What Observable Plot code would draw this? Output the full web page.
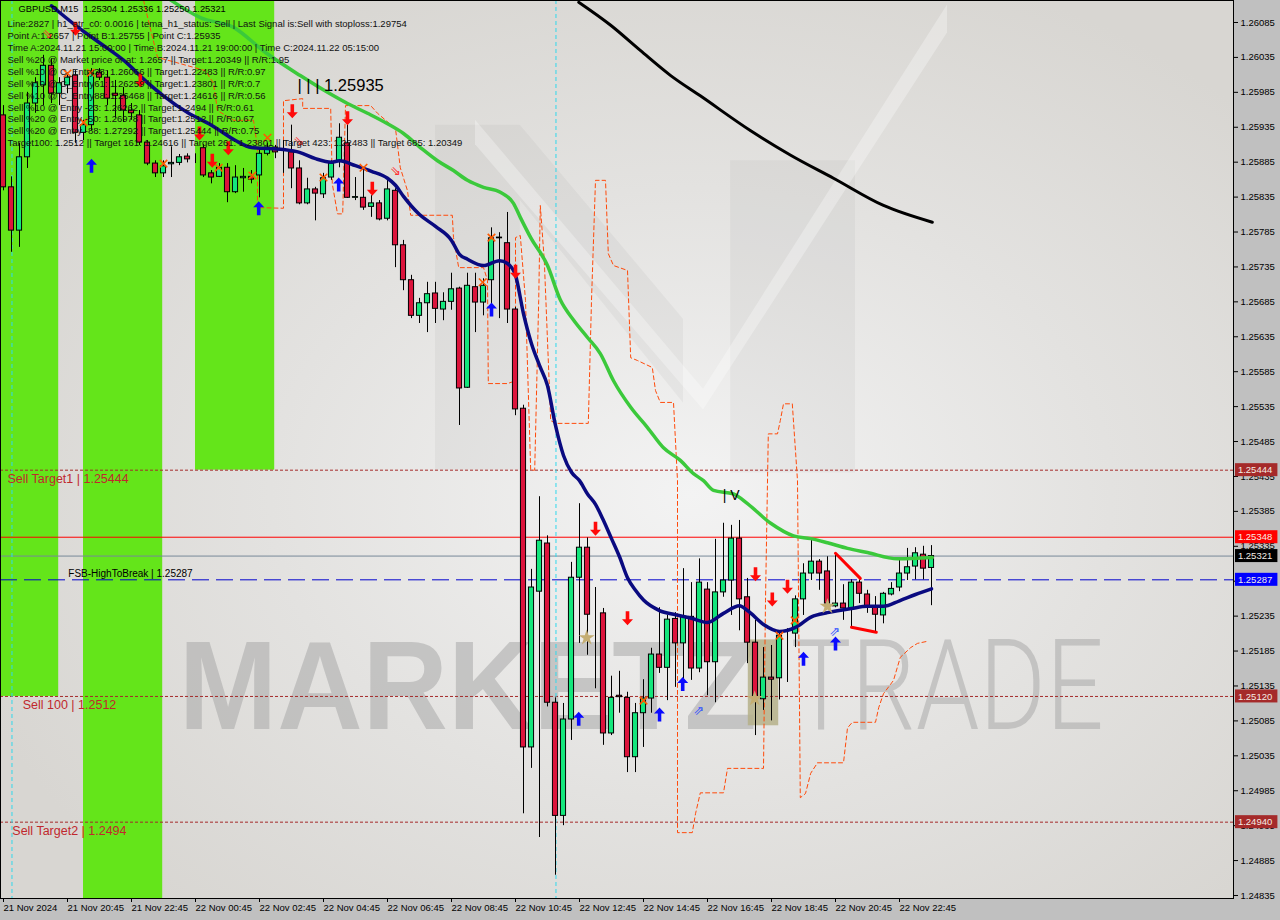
<!DOCTYPE html>
<html><head><meta charset="utf-8">
<script src="https://cdn.jsdelivr.net/npm/d3@7"></script>
<script src="https://cdn.jsdelivr.net/npm/@observablehq/plot@0.6"></script>
<style>html,body{margin:0;padding:0;background:#c0c0c0;overflow:hidden}#chart svg{display:block}</style>
</head><body><div id="chart"></div>
<script>
// ---------- candles (GBPUSD M15, bar index 0 = 21 Nov 18:45) ----------
const opens = [1.25952,1.25849,1.25787,1.25892,1.25969,1.25995,1.26023,1.25983,1.25995,1.26009,
1.25927,1.25938,1.26013,1.26006,1.25983,1.25980,1.25959,1.25952,1.25913,1.25883,
1.25869,1.25882,1.25884,1.25893,1.25890,1.25905,1.25869,1.25864,1.25877,1.25842,
1.25862,1.25864,1.25866,1.25897,1.25906,1.25901,1.25899,1.25876,1.25826,1.25846,
1.25839,1.25863,1.25887,1.25912,1.25834,1.25834,1.25821,1.25826,1.25804,1.25844,
1.25766,1.25716,1.25665,1.25683,1.25697,1.25674,1.25685,1.25704,1.25562,1.25706,
1.25684,1.25716,1.25776,1.25769,1.25674,1.25532,1.25047,1.25270,1.25339,1.25111,
1.24949,1.25087,1.25290,1.25333,1.25237,1.25239,1.25067,1.25121,1.25118,1.25033,
1.25096,1.25117,1.25180,1.25161,1.25231,1.25196,1.25234,1.25160,1.25273,1.25169,
1.25269,1.25286,1.25346,1.25262,1.25197,1.25116,1.25147,1.25146,1.25210,1.25210,
1.25259,1.25296,1.25313,1.25299,1.25249,1.25253,1.25246,1.25283,1.25266,1.25247,
1.25236,1.25266,1.25276,1.25296,1.25306,1.25323,1.25304];
const highs = [1.25966,1.25864,1.25912,1.25985,1.26006,1.26038,1.26033,1.26006,1.26013,1.26016,
1.25945,1.26019,1.26019,1.26016,1.26002,1.25992,1.25969,1.25959,1.25916,1.25887,
1.25887,1.25907,1.25896,1.25897,1.25897,1.25910,1.25873,1.25883,1.25883,1.25880,
1.25876,1.25873,1.25906,1.25912,1.25909,1.25916,1.25938,1.25887,1.25862,1.25849,
1.25869,1.25887,1.25940,1.25938,1.25863,1.25873,1.25837,1.25830,1.25859,1.25847,
1.25773,1.25723,1.25690,1.25713,1.25713,1.25698,1.25726,1.25706,1.25726,1.25726,
1.25718,1.25791,1.25784,1.25813,1.25677,1.25537,1.25302,1.25406,1.25350,1.25118,
1.25110,1.25312,1.25396,1.25347,1.25276,1.25246,1.25149,1.25156,1.25126,1.25110,
1.25144,1.25189,1.25247,1.25236,1.25240,1.25303,1.25283,1.25317,1.25283,1.25345,
1.25368,1.25365,1.25372,1.25289,1.25229,1.25190,1.25193,1.25210,1.25217,1.25264,
1.25310,1.25346,1.25316,1.25320,1.25326,1.25280,1.25287,1.25287,1.25272,1.25263,
1.25269,1.25283,1.25315,1.25332,1.25333,1.25335,1.25336];
const lows = [1.25844,1.25756,1.25763,1.25876,1.25955,1.25966,1.25969,1.25966,1.25983,1.25912,
1.25916,1.25930,1.26002,1.25966,1.25948,1.25942,1.25945,1.25909,1.25880,1.25863,
1.25863,1.25863,1.25880,1.25884,1.25883,1.25863,1.25854,1.25863,1.25827,1.25840,
1.25842,1.25854,1.25834,1.25894,1.25890,1.25869,1.25847,1.25824,1.25824,1.25801,
1.25833,1.25859,1.25877,1.25833,1.25830,1.25816,1.25806,1.25801,1.25801,1.25734,
1.25701,1.25661,1.25654,1.25641,1.25654,1.25658,1.25673,1.25508,1.25561,1.25641,
1.25665,1.25677,1.25661,1.25654,1.25522,1.24952,1.25017,1.24918,1.25105,1.24864,
1.24935,1.25057,1.25196,1.25179,1.25131,1.25050,1.25064,1.25096,1.25011,1.25011,
1.25047,1.25096,1.25153,1.25114,1.25133,1.25143,1.25143,1.25154,1.25121,1.25111,
1.25262,1.25236,1.25214,1.25167,1.25064,1.25100,1.25085,1.25115,1.25140,1.25190,
1.25236,1.25286,1.25272,1.25246,1.25247,1.25229,1.25220,1.25253,1.25239,1.25211,
1.25224,1.25264,1.25270,1.25286,1.25287,1.25287,1.25250];
const closes = [1.25849,1.25787,1.25892,1.25969,1.25998,1.26023,1.25983,1.25998,1.26006,1.25927,
1.25938,1.26012,1.26006,1.25976,1.25980,1.25959,1.25955,1.25913,1.25883,1.25869,
1.25879,1.25884,1.25892,1.25889,1.25890,1.25866,1.25863,1.25877,1.25842,1.25863,
1.25864,1.25860,1.25897,1.25906,1.25899,1.25902,1.25876,1.25826,1.25846,1.25840,
1.25862,1.25883,1.25920,1.25834,1.25835,1.25820,1.25826,1.25803,1.25846,1.25766,
1.25716,1.25665,1.25683,1.25696,1.25675,1.25685,1.25703,1.25561,1.25708,1.25684,
1.25708,1.25776,1.25777,1.25674,1.25531,1.25047,1.25276,1.25343,1.25111,1.24949,
1.25087,1.25290,1.25333,1.25237,1.25237,1.25067,1.25118,1.25119,1.25033,1.25096,
1.25117,1.25180,1.25161,1.25230,1.25196,1.25234,1.25160,1.25283,1.25169,1.25269,
1.25286,1.25346,1.25259,1.25197,1.25118,1.25147,1.25144,1.25207,1.25210,1.25259,
1.25296,1.25313,1.25296,1.25253,1.25253,1.25246,1.25283,1.25267,1.25247,1.25237,
1.25267,1.25274,1.25296,1.25305,1.25325,1.25303,1.25321];

// ---------- axes ----------
const xTickIdx = [0,8,16,24,32,40,48,56,64,72,80,88,96,104,112];
const xTickLabels = ["21 Nov 2024","21 Nov 20:45","21 Nov 22:45","22 Nov 00:45","22 Nov 02:45","22 Nov 04:45","22 Nov 06:45","22 Nov 08:45","22 Nov 10:45","22 Nov 12:45","22 Nov 14:45","22 Nov 16:45","22 Nov 18:45","22 Nov 20:45","22 Nov 22:45"];
const yTicks = [1.24835,1.24885,1.24935,1.24985,1.25035,1.25085,1.25135,1.25185,1.25235,1.25285,1.25335,1.25385,1.25435,1.25485,1.25535,1.25585,1.25635,1.25685,1.25735,1.25785,1.25835,1.25885,1.25935,1.25985,1.26035,1.26085];

// ---------- indicator lines (bar index, price) ----------
const navyIdx = [6,9,12,15,18,20,23,26,29,31,35,37,39,41,42,44,46,48,49,50,52,54,56,57,58,60,62,63,64,65,66,67,68,69,70,71,72,73,74,75,76,77,78,79,80,82,84,86,88,90,92,93,95,97,99,101,103,106,108,110,112,114,116];
const navyPrice = [1.26109,1.26081,1.26056,1.26031,1.25999,1.25980,1.25956,1.25938,1.25916,1.25906,1.25903,1.25899,1.25890,1.25885,1.25887,1.25880,1.25872,1.25862,1.25852,1.25836,1.25810,1.25793,1.25773,1.25753,1.25746,1.25737,1.25744,1.25740,1.25723,1.25668,1.25625,1.25594,1.25565,1.25508,1.25465,1.25441,1.25429,1.25410,1.25395,1.25372,1.25346,1.25320,1.25290,1.25272,1.25258,1.25243,1.25237,1.25232,1.25226,1.25239,1.25250,1.25243,1.25223,1.25213,1.25219,1.25234,1.25240,1.25246,1.25249,1.25249,1.25257,1.25266,1.25274];
const greenIdx = [20.9,24.6,28.75,32.75,37.1,40.5,43,45.5,48,50,52.1,54.25,56.25,58,60,62.1,63.75,64.6,65.9,68,69.6,71.25,73,74.6,76.25,78.4,80.5,82.5,84.6,86.25,87.5,88.75,91.25,93,95.9,98.75,100.9,103,105.5,108,111.75,116.1];
const greenPrice = [1.26117,1.26092,1.26078,1.26042,1.26009,1.25985,1.25969,1.25955,1.25940,1.25926,1.25906,1.25887,1.25873,1.25859,1.25849,1.25842,1.25826,1.25806,1.25777,1.25737,1.25688,1.25659,1.25634,1.25611,1.25572,1.25534,1.25505,1.25476,1.25458,1.25439,1.25429,1.25415,1.25410,1.25396,1.25368,1.25350,1.25346,1.25340,1.25332,1.25326,1.25317,1.25319];
const blackIdx = [71.9,75.9,79.6,83.4,87.1,93.4,98.4,103.75,110,116.1];
const blackPrice = [1.26114,1.26081,1.26045,1.26009,1.25980,1.25930,1.25895,1.25862,1.25823,1.25799];
const orangeIdx = [17.5,18.4,19.25,21.5,25.25,26.25,26.75,28.75,31.25,31.75,31.75,35,35,37.4,37.4,40.9,41.1,41.75,42.4,42.75,45.9,46.75,49,49.6,50.5,50.9,56.1,56.25,56.9,60,60.5,60.6,63,64,64,64.6,65.25,65.9,66.4,66.9,67.1,67.6,68.4,69,73.1,73.5,74,75.25,75.6,76.25,78,78.4,79.25,81.1,81.5,82.1,83.75,84.25,84.25,86.1,86.5,87.1,90,90.5,95,95.25,95.6,96.75,97.1,97.5,98.6,99.25,99.6,100.25,100.9,101.75,105,105.5,106.1,109,109.4,110,111.25,112.1,113.4,114.25,115.5];
const orangePrice = [1.26117,1.26074,1.26035,1.26028,1.26016,1.25998,1.25959,1.25945,1.25945,1.25906,1.25820,1.25819,1.25973,1.25976,1.25962,1.25962,1.25854,1.25811,1.25811,1.25966,1.25966,1.25955,1.25933,1.25877,1.25844,1.25809,1.25809,1.25777,1.25734,1.25734,1.25716,1.25568,1.25568,1.25572,1.25777,1.25780,1.25687,1.25444,1.25444,1.25687,1.25823,1.25744,1.25515,1.25511,1.25511,1.25687,1.25859,1.25859,1.25754,1.25737,1.25730,1.25605,1.25601,1.25591,1.25558,1.25541,1.25541,1.25429,1.24925,1.24925,1.24952,1.24982,1.24982,1.25017,1.25017,1.25257,1.25496,1.25496,1.25515,1.25539,1.25539,1.25429,1.24975,1.24981,1.25010,1.25025,1.25025,1.25075,1.25083,1.25083,1.25104,1.25124,1.25143,1.25176,1.25190,1.25196,1.25199];

// ---------- signals ----------
const sellArrowIdx = [9,17.1,24.5,26.1,28.1,36.1,43,46.1,64,74,78,94,96.1,98];
const sellArrowPrice = [1.26076,1.26002,1.25926,1.25887,1.25905,1.25958,1.25948,1.25847,1.25728,1.25360,1.25232,1.25295,1.25259,1.25277];
const buyArrowIdx = [11,31.9,41.9,61,71.9,82,84.9,100,104];
const buyArrowPrice = [1.25880,1.25819,1.25853,1.25674,1.25088,1.25094,1.25138,1.25174,1.25196];
const crossIdx = [8,10.9,10,20,26.9,31.1,33,40,45,59.9,61,80,97,98.9];
const crossPrice = [1.26012,1.26013,1.25942,1.25883,1.25877,1.25866,1.25920,1.25863,1.25877,1.25713,1.25777,1.25114,1.25207,1.25229];
const starIdx = [72.9,93.9,103];
const starPrice = [1.25204,1.25117,1.25249];
const hollowSellIdx = [5.5,36.9,49];
const hollowSellPrice = [1.26069,1.25915,1.25873];
const hollowBuyIdx = [86.9,103.9];
const hollowBuyPrice = [1.25100,1.25212];

// ---------- levels ----------
const sellLevelNames = ["Sell Target1","Sell 100","Sell Target2"];
const sellLevels = [1.25444,1.2512,1.2494];
const sellLabelIdx = [0.5,2.4,1.1];
const redLevel = 1.25348;
const bidLevel = 1.25321;
const breakLevel = 1.25287;
const breakName = "FSB-HighToBreak";
const separatorIdx = [1.06,69.06];
const bandStart = [-0.5,10,24];
const bandEnd = [6.9,19.9,33.9];
const bandLow = [1.2512,1.2483,1.25444];
const zoneIdx = [93.1,96.9];
const zonePrice = [1.25078,1.25201];
const trendA = [[104,1.25325],[107.1,1.25289]];
const trendB = [[106,1.25219],[109.1,1.25212]];
const pointCText = "| | | 1.25935";
const pointC = [36.75,1.25995];
const waveText = "| V";
const waveAt = [89.9,1.25408];

const infoTitle = "GBPUSD,M15  1.25304 1.25336 1.25250 1.25321";
const infoLines = [
"Line:2827 | h1_atr_c0: 0.0016 | tema_h1_status: Sell | Last Signal is:Sell with stoploss:1.29754",
"Point A:1.2657 | Point B:1.25755 | Point C:1.25935",
"Time A:2024.11.21 15:00:00 | Time B:2024.11.21 19:00:00 | Time C:2024.11.22 05:15:00",
"Sell %20 @ Market price or at: 1.2657 || Target:1.20349 || R/R:1.95",
"Sell %10 @ C_Entry38: 1.26066 || Target:1.22483 || R/R:0.97",
"Sell %10 @ C_Entry61: 1.26259 || Target:1.23801 || R/R:0.7",
"Sell %10 @ C_Entry88: 1.26468 || Target:1.24616 || R/R:0.56",
"Sell %10 @ Entry -23: 1.26262 || Target:1.2494 || R/R:0.61",
"Sell %20 @ Entry -50: 1.26978 || Target:1.2512 || R/R:0.67",
"Sell %20 @ Entry -88: 1.27292 || Target:1.25444 || R/R:0.75",
"Target100: 1.2512 || Target 161: 1.24616 || Target 261: 1.23801 || Target 423: 1.22483 || Target 685: 1.20349"];
const watermarkBold = "MARKETZ";
const watermarkLight = "TRADE";
const watermarkAt = [[21.9,1.25074],[98.4,1.25074]];
// faint logo pieces behind the chart: [idx1, idx2, priceTop1, priceTop2, priceBottom1, priceBottom2]
const logoDark = [[54,64.6,1.25938,1.25938,1.25444,1.25444],[90.9,106.5,1.25887,1.25887,1.25440,1.25440],[64.6,85,1.25938,1.25660,1.25830,1.25540]];
const logoLight = [[59,87.5,1.25945,1.25560,1.25910,1.25530],[87.5,118,1.25560,1.26110,1.25530,1.26070]];

// ---------- build tables ----------
const bars = opens.map((o,i)=>({i,o,h:highs[i],l:lows[i],c:closes[i]}));
const upBars = bars.filter(d=>d.c>=d.o), downBars = bars.filter(d=>d.c<d.o);
const zip = (a,b)=>a.map((v,k)=>({i:v,p:b[k]}));
const navy = zip(navyIdx,navyPrice), green = zip(greenIdx,greenPrice), black = zip(blackIdx,blackPrice), orange = zip(orangeIdx,orangePrice);
const sells = zip(sellArrowIdx,sellArrowPrice), buys = zip(buyArrowIdx,buyArrowPrice);
const crosses = zip(crossIdx,crossPrice), stars = zip(starIdx,starPrice);
const bands = bandStart.map((s,k)=>({x1:s,x2:bandEnd[k],y1:bandLow[k]}));
const levels = sellLevels.map((p,k)=>({p,name:sellLevelNames[k],i:sellLabelIdx[k]}));
const logoPts = (arr)=>arr.map((s,k)=>[{k,i:s[0],t:s[2],b:s[4]},{k,i:s[1],t:s[3],b:s[5]}]).flat();
const fmt = d3.format(".5f");

const arrowUp = {draw(ctx,size){const k=Math.sqrt(size/Math.PI)/6;
  ctx.moveTo(0,-7*k);ctx.lineTo(5.5*k,-1*k);ctx.lineTo(1.8*k,-1*k);ctx.lineTo(1.8*k,7*k);ctx.lineTo(-1.8*k,7*k);ctx.lineTo(-1.8*k,-1*k);ctx.lineTo(-5.5*k,-1*k);ctx.closePath();}};
const arrowDown = {draw(ctx,size){const k=Math.sqrt(size/Math.PI)/6;
  ctx.moveTo(0,7*k);ctx.lineTo(5.5*k,1*k);ctx.lineTo(1.8*k,1*k);ctx.lineTo(1.8*k,-7*k);ctx.lineTo(-1.8*k,-7*k);ctx.lineTo(-1.8*k,1*k);ctx.lineTo(-5.5*k,1*k);ctx.closePath();}};

const FONT = "Liberation Sans, Arial, sans-serif";
const yTop = 1.261165, yBottom = 1.248307;

const chart = Plot.plot({
  width:1280, height:920,
  marginLeft:0, marginRight:47, marginTop:0, marginBottom:22,
  x:{type:"linear", domain:[-0.375,153.75]},
  y:{type:"linear", domain:[yBottom,yTop]},
  style:{background:"#c0c0c0", fontFamily:FONT, fontSize:"9.5px", color:"black"},
  marks:[
    Plot.frame({fill:"#dedcd9"}),
    Plot.areaY(logoPts(logoDark),{x:"i", y1:"b", y2:"t", z:"k", fill:"#000", fillOpacity:0.035}),
    Plot.areaY(logoPts(logoLight),{x:"i", y1:"b", y2:"t", z:"k", fill:"#fff", fillOpacity:0.3}),
    Plot.text([watermarkBold],{x:()=>watermarkAt[0][0], y:()=>watermarkAt[0][1], text:d=>d, textAnchor:"start", lineAnchor:"bottom", fontSize:126, fontWeight:"bold", fill:"#a4a4a4", fillOpacity:0.52, fontFamily:"Liberation Sans, Arial"}),
    Plot.text([watermarkLight],{x:()=>watermarkAt[1][0], y:()=>watermarkAt[1][1], text:d=>d, textAnchor:"start", lineAnchor:"bottom", fontSize:126, fontWeight:300, fill:"#a4a4a4", fillOpacity:0.5, fontFamily:"Roboto, Liberation Sans"}),
    Plot.rect(bands,{x1:"x1", x2:"x2", y1:"y1", y2:()=>yTop, fill:"#64e51a"}),
    Plot.rect([zoneIdx],{x1:d=>d[0], x2:d=>d[1], y1:()=>zonePrice[0], y2:()=>zonePrice[1], fill:"#b5b08a", fillOpacity:0.85}),
    Plot.ruleY(sellLevels,{stroke:"#a52a2a", strokeDasharray:"3,2"}),
    Plot.ruleY([redLevel],{stroke:"#ff0000"}),
    Plot.ruleY([bidLevel],{stroke:"#778899"}),
    Plot.ruleY([breakLevel],{stroke:"#0000cd", strokeDasharray:"17,7"}),
    Plot.ruleX(separatorIdx,{stroke:"#30d8ec", strokeDasharray:"4,3"}),
    Plot.text(levels,{x:"i", y:"p", text:d=>`${d.name} | ${d.p}`, dy:9, textAnchor:"start", fill:"#c0282d", fontSize:12.5}),
    Plot.text([breakLevel],{x:()=>8.1, y:d=>d, text:d=>`${breakName} | ${d}`, dy:-6, textAnchor:"start", fill:"black", fontSize:10}),
    Plot.line(orange,{x:"i", y:"p", stroke:"#ff4a0a", strokeWidth:1, strokeDasharray:"4,3"}),
    Plot.ruleX(bars,{x:"i", y1:"l", y2:"h", stroke:"black", strokeWidth:1}),
    Plot.rect(upBars,{x1:d=>d.i-0.32, x2:d=>d.i+0.32, y1:"o", y2:"c", fill:"#14e67c", stroke:"black", strokeWidth:1}),
    Plot.rect(downBars,{x1:d=>d.i-0.32, x2:d=>d.i+0.32, y1:"c", y2:"o", fill:"#dc143c", stroke:"black", strokeWidth:1}),
    Plot.line(green,{x:"i", y:"p", stroke:"#3bc93b", strokeWidth:3.5, curve:"monotone-x"}),
    Plot.line(navy,{x:"i", y:"p", stroke:"#0a0a80", strokeWidth:3.5, curve:"monotone-x"}),
    Plot.line(black,{x:"i", y:"p", stroke:"black", strokeWidth:3, curve:"monotone-x"}),
    Plot.line(trendA.map(([i,p])=>({i,p})),{x:"i", y:"p", stroke:"#ff0000", strokeWidth:3}),
    Plot.line(trendB.map(([i,p])=>({i,p})),{x:"i", y:"p", stroke:"#ff0000", strokeWidth:3}),
    Plot.dot(crosses,{x:"i", y:"p", symbol:"times", r:3.5, stroke:"#ff5a00", strokeWidth:1.6}),
    Plot.dot(stars,{x:"i", y:"p", symbol:"star", r:5, fill:"#c4ad72", stroke:"none"}),
    Plot.dot(sells,{x:"i", y:"p", symbol:arrowDown, r:6, fill:"#ff0a0a", stroke:"none"}),
    Plot.dot(buys,{x:"i", y:"p", symbol:arrowUp, r:6, fill:"#0a0aff", stroke:"none"}),
    Plot.text(zip(hollowSellIdx,hollowSellPrice),{x:"i", y:"p", text:()=>"⇘", fill:"#ff3030", fontSize:13, fontFamily:"DejaVu Sans"}),
    Plot.text(zip(hollowBuyIdx,hollowBuyPrice),{x:"i", y:"p", text:()=>"⇗", fill:"#3050ff", fontSize:13, fontFamily:"DejaVu Sans"}),
    Plot.text([pointCText],{x:()=>pointC[0], y:()=>pointC[1], text:d=>d, textAnchor:"start", fontSize:16.5, fill:"black"}),
    Plot.text([waveText],{x:()=>waveAt[0], y:()=>waveAt[1], text:d=>d, textAnchor:"start", fontSize:14, fill:"black"}),
    Plot.text([infoTitle],{frameAnchor:"top-left", text:d=>d, dx:18, dy:5, lineAnchor:"top", fontSize:9.3, fill:"black"}),
    Plot.text([infoLines.join("\n")],{frameAnchor:"top-left", text:d=>d, dx:7, dy:18.5, lineAnchor:"top", lineHeight:1.25, fontSize:9.5, fill:"#111"}),
    Plot.frame({stroke:"black"}),
    Plot.axisX({ticks:xTickIdx, tickFormat:d=>xTickLabels[xTickIdx.indexOf(d)], tickSize:4, tickPadding:2, textAnchor:"start", dx:0, fontSize:9.5, fill:"black"}),
    Plot.axisY({anchor:"right", ticks:yTicks, tickFormat:fmt, tickSize:4, tickPadding:3, fontSize:9.5, fill:"black"}),
    Plot.rect(sellLevels,{x1:()=>154, x2:()=>159.3, y1:d=>d, y2:d=>d, insetTop:-6.5, insetBottom:-6.5, fill:"#a52a2a"}),
    Plot.rect([redLevel],{x1:()=>154, x2:()=>159.3, y1:d=>d, y2:d=>d, insetTop:-6.5, insetBottom:-6.5, fill:"#ff0000"}),
    Plot.rect([bidLevel],{x1:()=>154, x2:()=>159.3, y1:d=>d, y2:d=>d, insetTop:-6.5, insetBottom:-6.5, fill:"#000000"}),
    Plot.rect([breakLevel],{x1:()=>154, x2:()=>159.3, y1:d=>d, y2:d=>d, insetTop:-6.5, insetBottom:-6.5, fill:"#0000ff"}),
    Plot.text([...sellLevels,redLevel,bidLevel,breakLevel],{x:()=>154.3, y:d=>d, text:d=>fmt(d), textAnchor:"start", fill:"#f4ece4", fontSize:9.5})
  ]
});
document.getElementById("chart").appendChild(chart);

// background gradient and watermark sizing
const svg = d3.select(chart);
const defs = svg.insert("defs",":first-child");
const g = defs.append("radialGradient").attr("id","bgGrad").attr("cx","0.56").attr("cy","0.55").attr("r","0.62");
g.append("stop").attr("offset","0").attr("stop-color","#f3f3f3");
g.append("stop").attr("offset","0.55").attr("stop-color","#e3e2e0");
g.append("stop").attr("offset","1").attr("stop-color","#d8d6d2");
svg.select("rect").attr("fill","url(#bgGrad)");
svg.selectAll("text").filter(function(){return this.textContent===watermarkBold;}).attr("textLength",578).attr("lengthAdjust","spacingAndGlyphs");
svg.selectAll("text").filter(function(){return this.textContent===watermarkLight;}).attr("textLength",313).attr("lengthAdjust","spacingAndGlyphs");
</script>
</body></html>
